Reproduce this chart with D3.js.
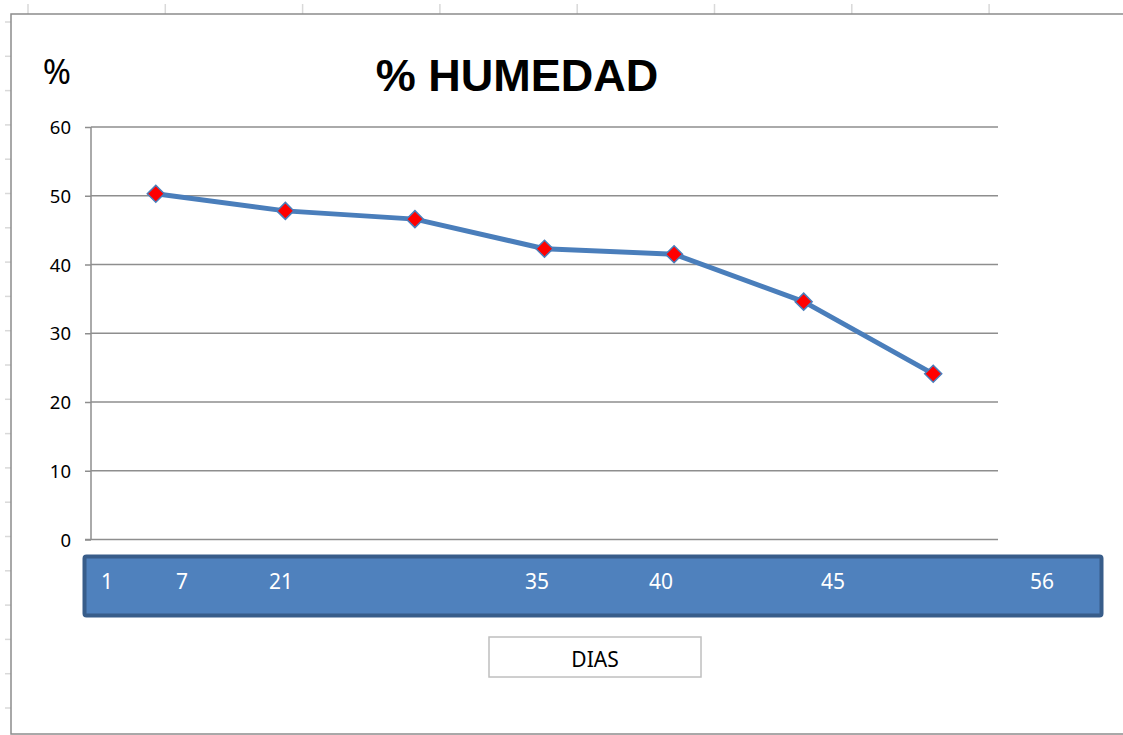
<!DOCTYPE html>
<html>
<head>
    <meta charset="utf-8">
    <style>
        body { margin: 0; background: #fff; }
        svg { display: block; }
    </style>
</head>
<body>
    <svg width="1123" height="735"></svg>
    <script src="https://d3js.org/d3.v7.min.js"></script>
    <script>
        // sample points (one per measurement)
        let samples = ["m1", "m2", "m3", "m4", "m5", "m6", "m7"];
        let humedad = [50.3, 47.8, 46.6, 42.3, 41.5, 34.6, 24.1];
        let yTicks = [0, 10, 20, 30, 40, 50, 60];
        // labels typed into the blue box that covers the category axis
        let diasLabels = ["1", "7", "21", "35", "40", "45", "56"];
        let diasLabelX = [107, 182, 281, 537, 661, 833, 1042];

        let svg = d3.select("svg");
        let margin = {left: 91, right: 998, top: 127, bottom: 539.5};

        // spreadsheet cell marks behind the chart object
        let sheet = svg.append("g").attr("stroke", "#d9d9d9").attr("stroke-width", 1.5);
        d3.range(28, 1123, 137.3).forEach(x => {
            sheet.append("line").attr("x1", x).attr("x2", x).attr("y1", 4).attr("y2", 14);
        });
        d3.range(22, 735, 34.3).forEach(y => {
            sheet.append("line").attr("x1", 5).attr("x2", 11).attr("y1", y).attr("y2", y);
        });

        // chart area
        svg.append("rect")
            .attr("x", 11).attr("y", 14)
            .attr("width", 1130).attr("height", 720)
            .attr("fill", "#fff")
            .attr("stroke", "#8c8c8c")
            .attr("stroke-width", 1.5);

        let x = d3.scaleBand().domain(samples).range([margin.left, margin.right]);
        let y = d3.scaleLinear().domain([0, 60]).range([margin.bottom, margin.top]);

        // gridlines
        svg.append("g")
            .selectAll("line")
            .data(yTicks.filter(d => d > 0))
            .enter()
            .append("line")
            .attr("x1", margin.left).attr("x2", margin.right)
            .attr("y1", d => y(d)).attr("y2", d => y(d))
            .attr("stroke", "#8e8e8e")
            .attr("stroke-width", 1.5);

        // y axis
        let yAxis = svg.append("g")
            .attr("transform", `translate(${margin.left},0)`)
            .call(d3.axisLeft(y).tickValues(yTicks).tickSize(6).tickPadding(14).tickFormat(d3.format("d")));
        yAxis.select(".domain").attr("stroke", "#8e8e8e").attr("stroke-width", 1.5).attr("d", `M0,${margin.top}V${margin.bottom}`);
        yAxis.selectAll(".tick line").attr("stroke", "#8e8e8e").attr("stroke-width", 1.5);
        yAxis.selectAll(".tick text")
            .attr("font-family", "Noto Sans")
            .attr("font-size", 18.5)
            .attr("fill", "#000")
            .attr("dy", "0.36em");

        // x axis line
        svg.append("line")
            .attr("x1", margin.left - 6).attr("x2", margin.right)
            .attr("y1", y(0)).attr("y2", y(0))
            .attr("stroke", "#8e8e8e")
            .attr("stroke-width", 1.5);

        // series line
        let line = d3.line()
            .x((d, i) => x(samples[i]) + x.bandwidth() / 2)
            .y(d => y(d));
        svg.append("path")
            .datum(humedad)
            .attr("d", line)
            .attr("fill", "none")
            .attr("stroke", "#4a7ebb")
            .attr("stroke-width", 5)
            .attr("stroke-linejoin", "round");

        // diamond markers
        svg.append("g")
            .selectAll("path")
            .data(humedad)
            .enter()
            .append("path")
            .attr("transform", (d, i) => `translate(${x(samples[i]) + x.bandwidth() / 2},${y(d)})`)
            .attr("d", "M0,-8.5L8.5,0L0,8.5L-8.5,0Z")
            .attr("fill", "#ff0000")
            .attr("stroke", "#4a7ebb")
            .attr("stroke-width", 1.5);

        // titles
        svg.append("text")
            .attr("x", 517).attr("y", 91)
            .attr("text-anchor", "middle")
            .attr("font-family", "Liberation Sans")
            .attr("font-weight", "bold")
            .attr("font-size", 45)
            .text("% HUMEDAD");
        svg.append("text")
            .attr("x", 57).attr("y", 84)
            .attr("text-anchor", "middle")
            .attr("font-family", "Noto Sans")
            .attr("font-size", 34)
            .text("%");

        // blue box over the category axis
        svg.append("rect")
            .attr("x", 84.5).attr("y", 556.5)
            .attr("width", 1017).attr("height", 59)
            .attr("rx", 2)
            .attr("fill", "#4f81bd")
            .attr("stroke", "#385d8a")
            .attr("stroke-width", 4);
        svg.append("g")
            .selectAll("text")
            .data(diasLabels)
            .enter()
            .append("text")
            .attr("x", (d, i) => diasLabelX[i])
            .attr("y", 589)
            .attr("text-anchor", "middle")
            .attr("font-family", "Noto Sans")
            .attr("font-size", 21)
            .attr("fill", "#fff")
            .text(d => d);

        // axis title box
        svg.append("rect")
            .attr("x", 489).attr("y", 637)
            .attr("width", 212).attr("height", 40)
            .attr("fill", "#fff")
            .attr("stroke", "#bfbfbf")
            .attr("stroke-width", 1.5);
        svg.append("text")
            .attr("x", 595).attr("y", 667)
            .attr("text-anchor", "middle")
            .attr("font-family", "Noto Sans")
            .attr("font-size", 21)
            .text("DIAS");
    </script>
</body>
</html>
